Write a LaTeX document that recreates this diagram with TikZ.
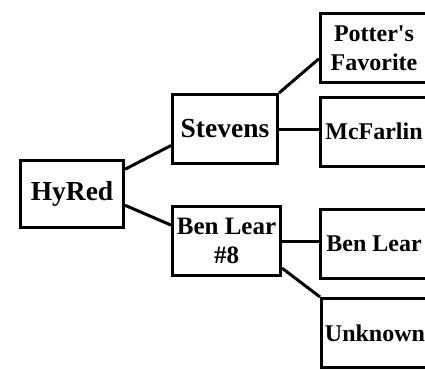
\documentclass[tikz,border=0pt]{standalone}
\usepackage{fontspec}
\setmainfont{Liberation Serif}[Ligatures=TeXOff]
\usetikzlibrary{positioning}

\begin{document}
\begin{tikzpicture}[x=1pt, y=-1pt,
    every node/.style={rectangle, draw, line width=3pt, inner sep=0pt, align=center,
        font=\bfseries\fontsize{25}{29}\selectfont},
    big/.style={font=\bfseries\fontsize{27.5}{30}\selectfont},
    leaf/.style={minimum width=107pt, minimum height=69pt,
        font=\bfseries\fontsize{24}{29}\selectfont},
    link/.style={line width=3pt}
]
\useasboundingbox (0,0) rectangle (425,369);
\clip (0,0) rectangle (425,369);
\node[big, minimum width=103pt, minimum height=67pt] (hyred) at (72,194) {HyRed};
\node[big, minimum width=105pt, minimum height=69pt] (stevens) at (225,129) {Stevens};
\node[minimum width=108pt, minimum height=69pt] (benlear8) at (226.5,241) {Ben Lear\\\#8};
\node[leaf] (potters) at (374,48) {Potter's\\Favorite};
\node[leaf] (mcfarlin) at (374,131.5) {McFarlin};
\node[leaf] (benlear) at (374,244) {Ben Lear};
\node[leaf] (unknown) at (375,333) {Unknown};
\draw[link] (hyred.25) -- (stevens.197);
\draw[link] (hyred.-12) -- (benlear8.164);
\draw[link] (stevens.north east) -- (potters.191);
\draw[link] (stevens.east) -- (stevens.east -| mcfarlin.west);
\draw[link] (benlear8.east) -- (benlear8.east -| benlear.west);
\draw[link] (benlear8.-26) -- (unknown.north west);
\end{tikzpicture}
\end{document}
